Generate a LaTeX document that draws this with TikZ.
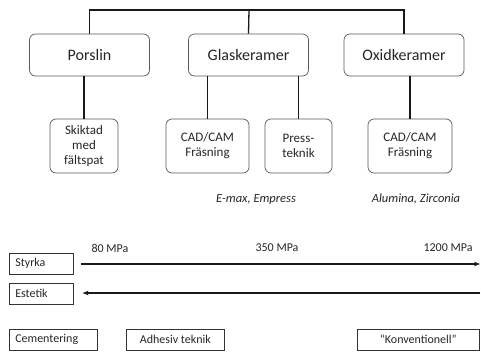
\documentclass[tikz,border=0pt]{standalone}
\usepackage{fontspec}
\setmainfont{Carlito}
\usetikzlibrary{arrows.meta}

\tikzset{
	group/.style  = {draw=black!65, rounded corners=6pt, line width=0.7pt,
	                 minimum width=120pt, minimum height=42pt, text=black!85,
	                 font=\fontsize{16}{18}\selectfont},
	method/.style = {draw=black!65, rounded corners=6pt, line width=0.7pt,
	                 minimum height=54pt, align=center, inner sep=2pt, text=black!85,
	                 font=\fontsize{13}{15}\selectfont},
	tag/.style    = {draw=black!80, line width=0.6pt, minimum height=21pt,
	                 inner xsep=6pt, inner ysep=0pt, text=black!85,
	                 font=\fontsize{12}{14}\selectfont},
	note/.style   = {text=black!85, font=\fontsize{12.5}{14}\selectfont\itshape},
	mpa/.style    = {text=black!85, font=\fontsize{12}{14}\selectfont},
	link/.style   = {line width=1.3pt, black!90},
	axis/.style   = {line width=1.3pt, black!90, -{Stealth[length=6pt,width=4.5pt]}},
}

\begin{document}
\begin{tikzpicture}[x=1pt, y=-1pt]
	\useasboundingbox (0,0) rectangle (481,351);
	% material groups
	\node[group] (porslin) at (89.5,55)  {Porslin};
	\node[group] (glas)    at (248.5,55) {Glaskeramer};
	\node[group] (oxid)    at (404,55)   {Oxidkeramer};
	% manufacturing methods
	\node[method, minimum width=68pt] (skiktad) at (84,146)    {Skiktad\\med\\fältspat};
	\node[method, minimum width=83pt] (cadglas) at (207.5,146) {CAD/CAM\\Fräsning};
	\node[method, minimum width=67pt] (press)   at (298.5,146) {Press-\\teknik};
	\node[method, minimum width=84pt] (cadoxid) at (410,146)   {CAD/CAM\\Fräsning};
	% examples
	\node[note] (glasex) at (256,199) {E-max, Empress};
	\node[note] (oxidex) at (416,199) {Alumina, Zirconia};
	% tree edges
	\coordinate (top) at (249,10);
	\draw[link] (porslin.north) |- (top) -| (oxid.north);
	\draw[link] (top) -- (glas.north);
	\foreach \sub/\main in {skiktad/porslin, cadglas/glas, press/glas, cadoxid/oxid}
	{
		\draw[link] (\sub.north) -- (\sub.north |- \main.south);
	}
	% strength and aesthetics scales
	\node[tag, text width=52pt, anchor=west] (styrka)  at (9,263.5) {Styrka};
	\node[tag, text width=52pt, anchor=west] (estetik) at (9,293.5) {Estetik};
	\coordinate (styrkaend)  at (480,264);
	\coordinate (estetikend) at (480,293);
	\draw[axis] ([xshift=7pt]styrka.east |- styrkaend) -- (styrkaend);
	\draw[axis] (estetikend) -- ([xshift=9pt]estetik.east |- estetikend);
	\node[mpa] (mpa80)   at (110,248) {80 MPa};
	\node[mpa] (mpa350)  at (277,248) {350 MPa};
	\node[mpa] (mpa1200) at (448,248) {1200 MPa};
	% cementation
	\node[tag, text width=76pt, anchor=west]    (cement) at (9,339.5)   {Cementering};
	\node[tag, minimum width=98pt, anchor=west] (adhes)  at (126,339.5) {Adhesiv teknik};
	\node[tag, minimum width=122pt, anchor=west] (konv)  at (357,339.5) {“Konventionell”};
\end{tikzpicture}
\end{document}
